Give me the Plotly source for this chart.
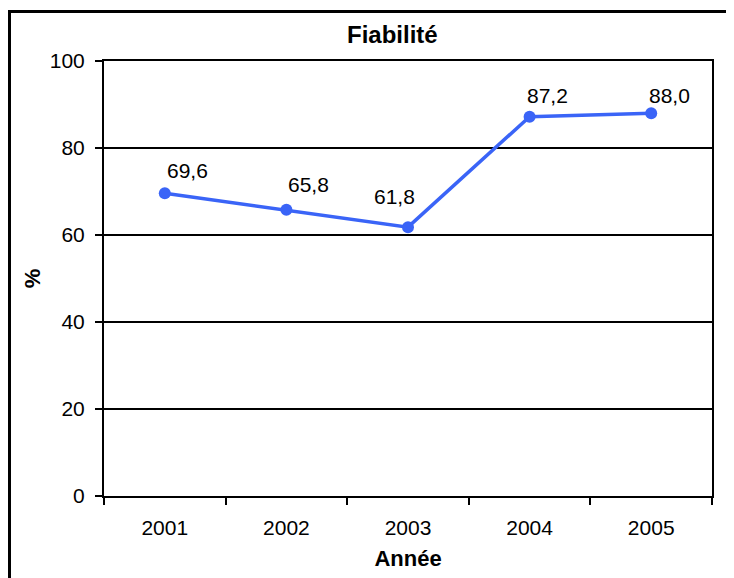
import plotly.graph_objects as go

years = ["2001", "2002", "2003", "2004", "2005"]
fiabilite = [69.6, 65.8, 61.8, 87.2, 88.0]
y_ticks = [0, 20, 40, 60, 80, 100]

title_text = "Fiabilité"
x_title = "Année"
y_title = "%"

# label placement (style only)
label_anchor = ["left", "left", "right", "left", "left"]
label_xshift = [0, 0, 9, -5, -4]
label_yshift = [23, 25, 31, 21, 18]

FONT = "Liberation Sans, Arial, sans-serif"
BLUE = "#3A64F7"

# plot area in figure pixels
L, T, R, B = 96, 53, 30, 90
W, H = 734, 578
PW, PH = W - L - R, H - T - B

fig = go.Figure()
fig.add_trace(go.Scatter(
    x=list(range(len(years))), y=fiabilite, mode="lines+markers",
    line=dict(color=BLUE, width=3.5),
    marker=dict(color=BLUE, size=12),
    showlegend=False, hoverinfo="y",
))

for i, (v, a, xs, ys) in enumerate(zip(fiabilite, label_anchor, label_xshift, label_yshift)):
    fig.add_annotation(
        x=i, y=v, xref="x", yref="y", text=f"{v:.1f}".replace(".", ","), showarrow=False,
        xanchor=a, yanchor="middle", xshift=xs, yshift=ys,
        font=dict(family=FONT, size=21, color="black"),
    )

fig.add_annotation(
    x=0.5, y=1, xref="paper", yref="paper", text=f"<b>{title_text}</b>",
    showarrow=False, xanchor="center", yanchor="middle", xshift=-16, yshift=27,
    font=dict(family=FONT, size=24, color="black"),
)

# outer chart border (cropped at right and bottom like the reference)
fig.add_shape(type="rect", xref="paper", yref="paper",
              x0=(1.5 - L) / PW, x1=1.2, y0=-0.4, y1=(H - B - 3.5) / PH,
              line=dict(color="black", width=3), layer="above")

fig.update_layout(
    width=W, height=H,
    margin=dict(l=L, r=R, t=T, b=B, autoexpand=False),
    paper_bgcolor="white", plot_bgcolor="white",
    font=dict(family=FONT, size=21, color="black"),
    xaxis=dict(
        range=[-0.5, 4.5], tickvals=list(range(len(years))), ticktext=years,
        ticks="", showline=True, linecolor="black", linewidth=2, mirror=True,
        showgrid=False, zeroline=False, automargin=False,
        tickfont=dict(family=FONT, size=21),
        ticklabelstandoff=12,
        title=dict(text=f"<b>{x_title}</b>", font=dict(family=FONT, size=22), standoff=12),
        minor=dict(tickvals=[-0.5, 0.5, 1.5, 2.5, 3.5, 4.5], ticks="outside",
                   ticklen=7, tickwidth=2, tickcolor="black", showgrid=False),
    ),
    yaxis=dict(
        range=[0, 100], tickvals=y_ticks,
        ticks="outside", ticklen=7, tickwidth=2, tickcolor="black",
        showline=True, linecolor="black", linewidth=2, mirror=True,
        showgrid=True, gridcolor="black", gridwidth=1.5, zeroline=False,
        automargin=False,
        tickfont=dict(family=FONT, size=21),
        ticklabelstandoff=6,
        title=dict(text=f"<b>{y_title}</b>", font=dict(family=FONT, size=22), standoff=3),
    ),
)

fig.write_html("out.html")
